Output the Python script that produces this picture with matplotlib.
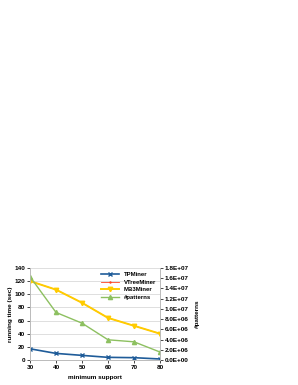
import numpy as np
import matplotlib.pyplot as plt

plt.rcParams['font.family'] = ['Liberation Sans', 'DejaVu Sans']
plt.rcParams['font.weight'] = 'bold'

support = [30, 40, 50, 60, 70, 80]
tpminer = [17, 10, 7, 4, 3.5, 1.5]
vtreeminer = [120, 107, 87, 64, 52, 40]
mb3miner = [120, 107, 87, 64, 52, 40]
patterns = [1.63e7, 9.3e6, 7.2e6, 3.95e6, 3.55e6, 1.55e6]

fig = plt.figure(figsize=(2.98, 3.85), dpi=100)
ax = fig.add_axes([0.1007, 0.065, 0.4363, 0.239])
ax2 = ax.twinx()

l1, = ax.plot(support, tpminer, color='#1f5c99', marker='x', ms=3, lw=1.2, label='TPMiner')
l2, = ax.plot(support, vtreeminer, color='#ff4422', marker='+', ms=2, lw=0.6, label='VTreeMiner')
l3, = ax.plot(support, mb3miner, color='#ffcc00', marker='v', ms=3.2, lw=1.4, label='MB3Miner')
l4, = ax2.plot(support, patterns, color='#8dc060', marker='^', ms=3, lw=1.0, label='#patterns')

ax.set_xlim(30, 80)
ax.set_ylim(0, 140)
ax.set_yticks(np.arange(0, 141, 20))
ax2.set_ylim(0, 1.8e7)
ticks2 = np.arange(0, 1.81e7, 2e6)
ax2.set_yticks(ticks2)
ax2.set_yticklabels([f'{v:.1E}' for v in ticks2])

ax.grid(axis='y', color='#d9d9d9', lw=0.6)
ax.set_axisbelow(True)
for a in (ax, ax2):
    a.tick_params(labelsize=4.6, length=2, width=0.5, pad=1.5)
    for s in a.spines.values():
        s.set_color('#bbbbbb')
        s.set_linewidth(0.6)
ax.spines['top'].set_visible(False)
ax2.spines['top'].set_visible(False)

ax.set_xlabel('minimum support', fontsize=4.6, fontweight='bold', labelpad=4)
ax.set_ylabel('running time (sec)', fontsize=4.6, fontweight='bold', labelpad=1)
ax2.set_ylabel('#patterns', fontsize=4.6, fontweight='bold', labelpad=4)

ax.legend(handles=[l1, l2, l3, l4], loc='upper right', fontsize=4.3, frameon=False,
          handlelength=3, labelspacing=0.4, borderaxespad=0.3)

fig.savefig('out.png', dpi=100)
